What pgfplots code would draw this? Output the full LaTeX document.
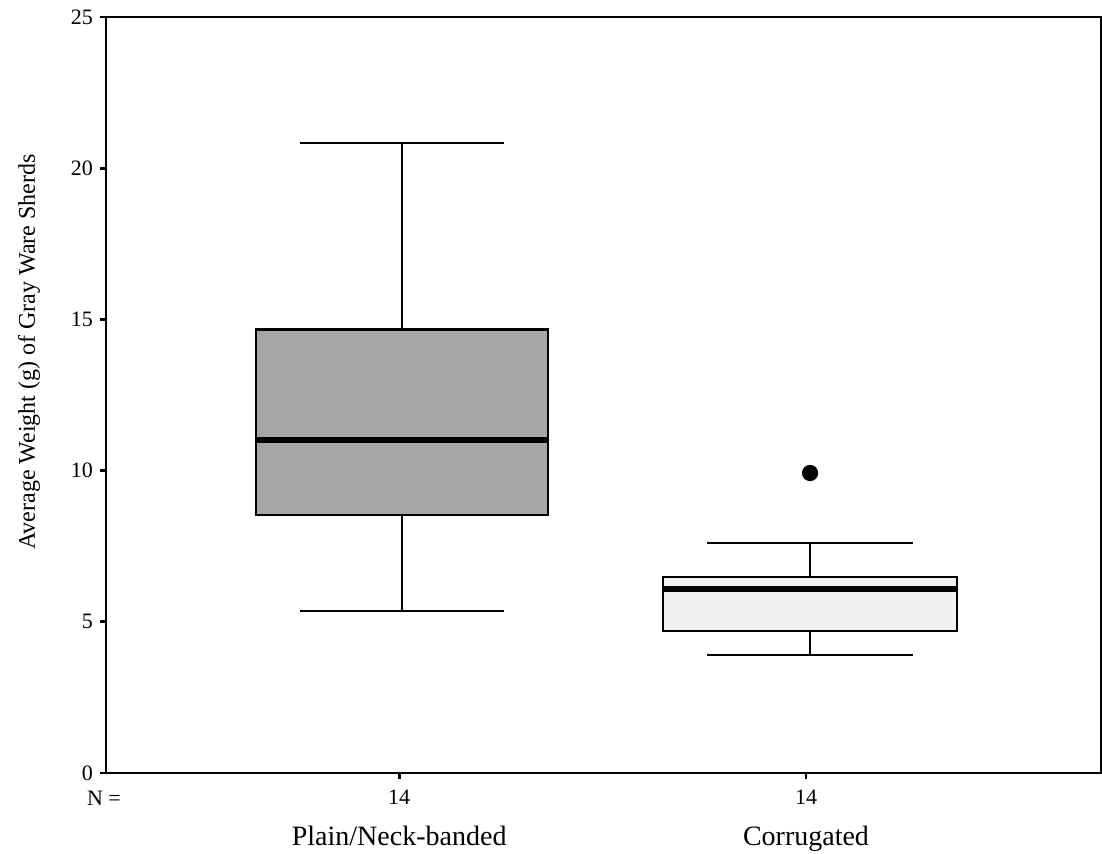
\documentclass[border=0pt]{standalone}
\usepackage{fontspec}
\setmainfont{Liberation Serif}
\usepackage{pgfplots}
\pgfplotsset{compat=1.18}
\usepgfplotslibrary{statistics}
\begin{document}
\begin{tikzpicture}
\useasboundingbox (-53pt,-40.5pt) rectangle (498pt,386.5pt);
\begin{axis}[
  at={(0,0)}, anchor=south west,
  scale only axis, width=497.5pt, height=378pt,
  xmin=0.2745, xmax=2.713, ymin=0, ymax=25,
  ytick={0,5,10,15,20,25},
  xtick={0.993,1.99}, xticklabels={14,14},
  xtick pos=bottom, ytick pos=left,
  tick align=outside, major tick length=3pt,
  axis line style={line width=1pt, black},
  tick style={line width=1.4pt, black},
  ticklabel style={font=\fontsize{11}{12}\selectfont},
  /pgf/number format/assume math mode=true,
  xticklabel style={yshift=-2pt},
  clip=false,
  boxplot/draw direction=y,
  boxplot/every median/.style={line width=2.9pt},
  boxplot/every whisker/.style={line width=1pt},
  boxplot/every box/.style={line width=1.3pt},
]
\addplot+[boxplot prepared={lower whisker=5.37, lower quartile=8.53, median=11.01,
  upper quartile=14.67, upper whisker=20.83, draw position=1,
  box extend=0.716, whisker extend=0.50},
  draw=black, fill=black!35, solid, mark=none] coordinates {};
\addplot+[boxplot prepared={lower whisker=3.90, lower quartile=4.70, median=6.08,
  upper quartile=6.48, upper whisker=7.60, draw position=2,
  box extend=0.72, whisker extend=0.505},
  draw=black, fill=black!6, solid, mark=*, mark size=3.8pt,
  mark options={fill=black, draw=black, line width=0.5pt}] coordinates {(0,9.92)};
\node[font=\fontsize{11}{12}\selectfont] at (rel axis cs:0,0) [xshift=-1pt, yshift=-12.5pt] {N =};
\node[font=\fontsize{14}{16}\selectfont, anchor=base] at (axis cs:0.993,0) [yshift=-36.5pt] {Plain/Neck-banded};
\node[font=\fontsize{14}{16}\selectfont, anchor=base] at (axis cs:1.99,0) [yshift=-36.5pt] {Corrugated};
\node[font=\fontsize{12}{14}\selectfont, xshift=-38.5pt, rotate=90] at (rel axis cs:0,0.557) {Average Weight (g) of Gray Ware Sherds};
\end{axis}
\end{tikzpicture}
\end{document}
